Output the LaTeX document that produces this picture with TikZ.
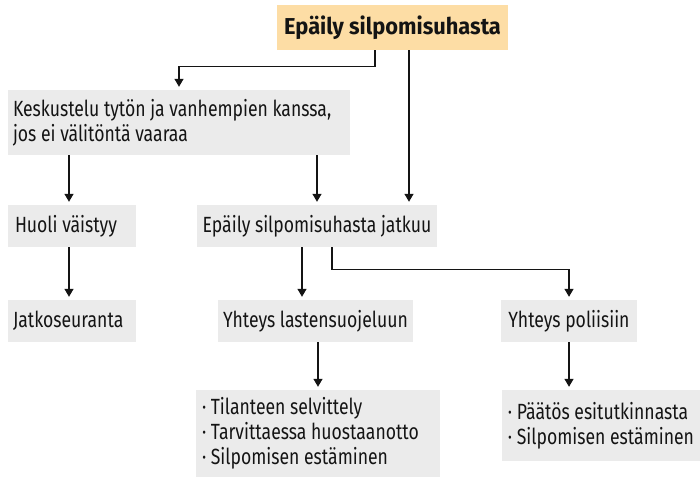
\documentclass[tikz,border=0pt]{standalone}
\usepackage{fontspec}
\setmainfont[FakeStretch=0.8]{Fira Sans}
\newfontfamily\titlefont[FakeStretch=0.95]{Fira Sans}
\usetikzlibrary{arrows.meta,calc}
\definecolor{boxgray}{RGB}{235,235,235}
\definecolor{boxorange}{RGB}{253,221,165}
\definecolor{ink}{RGB}{20,20,20}
\begin{document}
\begin{tikzpicture}[x=1pt,y=-1pt,
  every node/.style={font=\fontsize{22}{25}\selectfont, text=ink},
  gbox/.style={fill=boxgray, inner sep=0pt, align=left},
  lbox/.style 2 args={fill=boxgray, inner ysep=0pt, inner xsep=#2, text width=#1-2*#2, minimum width=#1, align=flush left},
  obox/.style={fill=boxorange, inner sep=0pt, font=\titlefont\fontsize{23}{25}\selectfont\bfseries},
  arr/.style={draw=ink, line width=1.3pt, -{Triangle[width=9pt,length=8pt]}, shorten >=3pt}]
\useasboundingbox (0,0) rectangle (700,479);
\node[obox, minimum width=231pt, minimum height=45pt] (top) at (392.5,27.5) {Epäily silpomisuhasta};
\node[lbox={342pt}{5pt}, minimum height=65pt] (kesk) at (179,122.5) {Keskustelu tytön ja vanhempien kanssa,\\ jos ei välitöntä vaaraa};
\node[lbox={128pt}{7pt}, minimum height=42pt] (huoli) at (72,226) {Huoli väistyy};
\node[gbox, minimum width=240pt, minimum height=42pt] (jatkuu) at (317,226) {Epäily silpomisuhasta jatkuu};
\node[lbox={128pt}{5pt}, minimum height=42pt] (jatko) at (72,321) {Jatkoseuranta};
\node[gbox, minimum width=195pt, minimum height=42pt] (lasten) at (315.5,321) {Yhteys lastensuojeluun};
\node[gbox, minimum width=136pt, minimum height=42pt] (poliisi) at (569,321) {Yhteys poliisiin};
\node[lbox={244pt}{6pt}, minimum height=87pt] (b1) at (318,433.5) {· Tilanteen selvittely\\ · Tarvittaessa huostaanotto\\ · Silpomisen estäminen};
\node[gbox, minimum width=198pt, minimum height=71pt] (b2) at (601,425.5) {· Päätös esitutkinnasta\\ · Silpomisen estäminen};

\draw[arr] ([xshift=-17.5pt]top.south) -- ++(0,16) -| (kesk.north);
\draw[arr] ([xshift=16.5pt]top.south) -- ([xshift=16.5pt]top.south |- jatkuu.north);
\draw[arr] ([xshift=-3pt]huoli.north |- kesk.south) -- ([xshift=-3pt]huoli.north);
\draw[arr] (jatkuu.north |- kesk.south) -- (jatkuu.north);
\draw[arr] ([xshift=-3pt]huoli.south) -- ([xshift=-3pt]jatko.north);
\draw[arr] ([xshift=-13.5pt]lasten.north |- jatkuu.south) -- ([xshift=-13.5pt]lasten.north);
\draw[arr] ([xshift=15pt]jatkuu.south) -- ++(0,22) -| (poliisi.north);
\draw[arr] (b1.north |- lasten.south) -- (b1.north);
\draw[arr] (poliisi.south) -- (poliisi.south |- b2.north);
\end{tikzpicture}
\end{document}
